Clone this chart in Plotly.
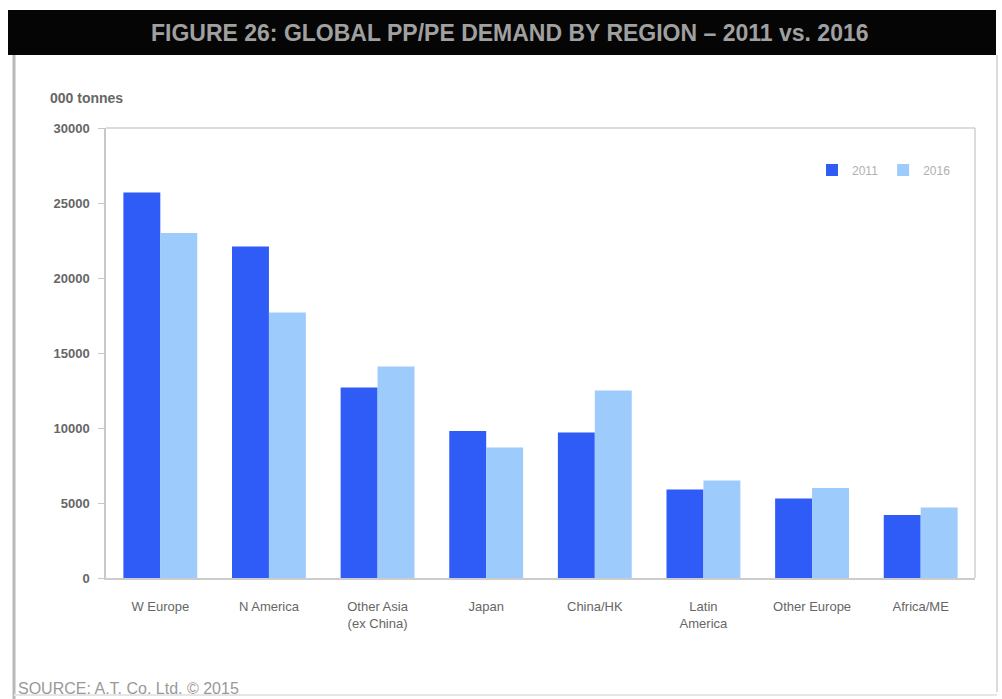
import plotly.graph_objects as go

categories = ["W Europe", "N America", "Other Asia<br>(ex China)", "Japan", "China/HK",
              "Latin<br>America", "Other Europe", "Africa/ME"]
values_2011 = [25700, 22100, 12700, 9800, 9700, 5900, 5300, 4200]
values_2016 = [23000, 17700, 14100, 8700, 12500, 6500, 6000, 4700]
series_names = ["2011", "2016"]
y_ticks = [0, 5000, 10000, 15000, 20000, 25000, 30000]

W, H = 1002, 699
L, R, T, B = 106, 975, 128, 578

def px(x):
    return (x - L) / (R - L)

def py(y):
    return (B - y) / (B - T)

FONT = "Arial, Liberation Sans, sans-serif"

fig = go.Figure()
fig.add_trace(go.Bar(x=categories, y=values_2011, name=series_names[0],
                     marker=dict(color="#2f5bf6", line=dict(width=0))))
fig.add_trace(go.Bar(x=categories, y=values_2016, name=series_names[1],
                     marker=dict(color="#9dcbfb", line=dict(width=0))))

shapes = [
    dict(type="rect", xref="paper", yref="paper", x0=px(8), x1=px(996), y0=py(55), y1=py(10),
         fillcolor="#050505", line=dict(width=0), layer="below"),
    dict(type="line", xref="paper", yref="paper", x0=px(14), x1=px(14), y0=py(55), y1=py(699),
         line=dict(color="#b8b8b8", width=3)),
    dict(type="line", xref="paper", yref="paper", x0=px(997), x1=px(997), y0=py(55), y1=py(692),
         line=dict(color="#dcdcdc", width=2)),
    dict(type="line", xref="paper", yref="paper", x0=px(14), x1=px(997), y0=py(695), y1=py(695),
         line=dict(color="#e6e6e6", width=2)),
    dict(type="line", xref="paper", yref="paper", x0=0, x1=1, y0=1, y1=1,
         line=dict(color="#d0d0d0", width=1.5)),
    dict(type="line", xref="paper", yref="paper", x0=1, x1=1, y0=0, y1=1,
         line=dict(color="#d0d0d0", width=1.5)),
]

annotations = [
    dict(text="<b>FIGURE 26: GLOBAL PP/PE DEMAND BY REGION – 2011 vs. 2016</b>",
         xref="paper", yref="paper", x=px(510), y=py(33), showarrow=False,
         font=dict(family=FONT, size=23, color="#a0a0a0"), xanchor="center", yanchor="middle"),
    dict(text="<b>000 tonnes</b>", xref="paper", yref="paper", x=px(48), y=py(98),
         showarrow=False, xanchor="left", yanchor="middle",
         font=dict(family=FONT, size=14, color="#666666")),
    dict(text="SOURCE: A.T. Co. Ltd. © 2015", xref="paper", yref="paper", x=px(16), y=py(688),
         showarrow=False, xanchor="left", yanchor="middle",
         font=dict(family=FONT, size=16, color="#999999")),
]

fig.update_layout(
    width=W, height=H,
    margin=dict(l=L, r=W - R, t=T, b=H - B, pad=0),
    paper_bgcolor="white", plot_bgcolor="white",
    barmode="group", bargap=0.32, bargroupgap=0.0,
    font=dict(family=FONT, size=13, color="#555555"),
    showlegend=True,
    legend=dict(orientation="h", x=px(812), y=py(170), xanchor="left", yanchor="middle",
                font=dict(family=FONT, size=12, color="#b0b0b0"), bgcolor="rgba(0,0,0,0)",
                itemwidth=30),
    shapes=shapes, annotations=annotations,
    xaxis=dict(showgrid=False, showline=True, linecolor="#cccccc", linewidth=1.5,
               ticks="", ticklabelstandoff=16,
               tickfont=dict(family=FONT, size=13, color="#666666"), fixedrange=True),
    yaxis=dict(range=[0, 30000], tickvals=y_ticks,
               ticktext=[f"<b>{v}</b>" for v in y_ticks],
               showgrid=False, showline=True, linecolor="#c8c8c8", linewidth=1.5,
               ticks="outside", ticklen=6, tickcolor="#c8c8c8", ticklabelstandoff=6,
               tickfont=dict(family=FONT, size=13, color="#666666"), zeroline=False),
)

fig.write_html("out.html")
